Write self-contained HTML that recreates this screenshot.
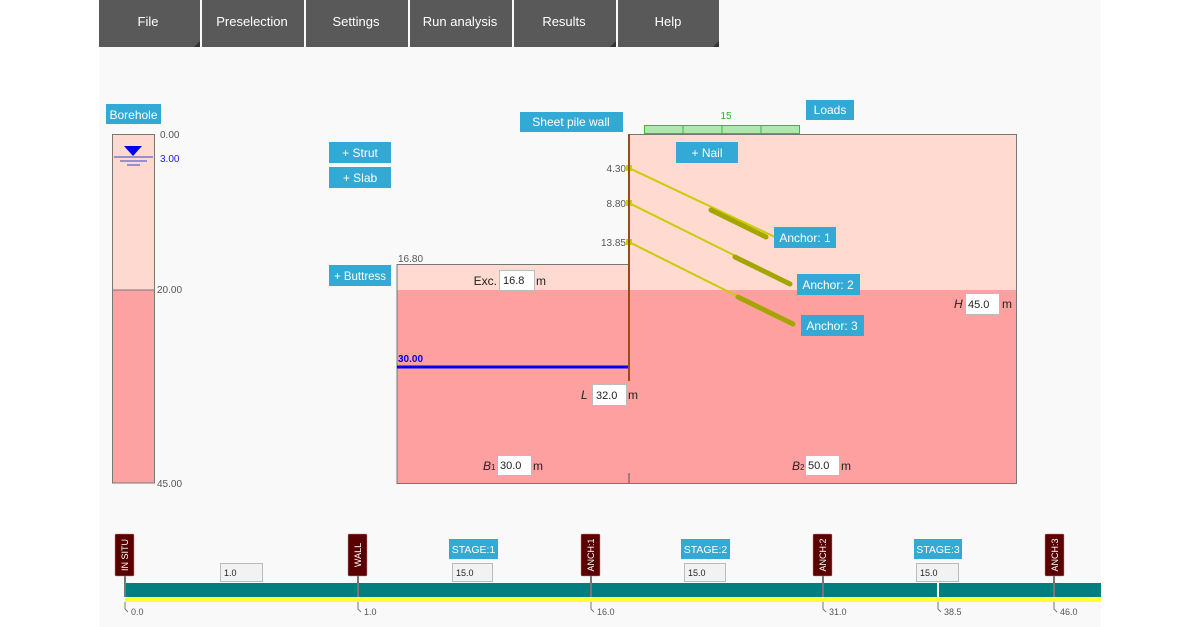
<!DOCTYPE html>
<html><head><meta charset="utf-8"><style>
body{margin:0;background:#fff;}
svg{display:block;font-family:"Liberation Sans","DejaVu Sans",sans-serif;}
</style></head><body>
<svg width="1200" height="627" viewBox="0 0 1200 627" xmlns="http://www.w3.org/2000/svg">
<rect x="99" y="0" width="1002" height="627" fill="#f9f9f9"/>
<!-- menu -->
<g fill="#595959">
<rect x="99" y="0" width="101" height="47"/><rect x="202" y="0" width="102" height="47"/>
<rect x="306" y="0" width="102" height="47"/><rect x="410" y="0" width="102" height="47"/>
<rect x="514" y="0" width="102" height="47"/><rect x="618" y="0" width="101" height="47"/>
</g>
<g fill="#333"><path d="M200 41L200 47L194 47Z"/><path d="M616 41L616 47L610 47Z"/><path d="M719 41L719 47L713 47Z"/></g>
<g fill="#fff" font-size="13" text-anchor="middle">
<text x="148" y="26">File</text><text x="252" y="26">Preselection</text><text x="356" y="26">Settings</text>
<text x="460" y="26">Run analysis</text><text x="564" y="26">Results</text><text x="668" y="26">Help</text>
</g>
<!-- borehole -->
<rect x="106" y="104" width="55" height="20" fill="#33a9d6"/>
<text x="133.5" y="119" font-size="12" fill="#fff" text-anchor="middle">Borehole</text>
<rect x="112.5" y="134.5" width="42" height="156" fill="#fdd9d0" stroke="#777"/>
<rect x="112.5" y="290" width="42" height="193" fill="#fda2a2" stroke="#777"/>
<path d="M124 146L142 146L133 156Z" fill="#0000ee"/>
<line x1="114" y1="157" x2="153" y2="157" stroke="#3344dd"/>
<line x1="120" y1="161" x2="147" y2="161" stroke="#3344dd"/>
<line x1="127" y1="165" x2="140" y2="165" stroke="#3344dd"/>
<g font-size="10" fill="#555">
<text x="160" y="138">0.00</text><text x="160" y="162" fill="#1a1aee">3.00</text>
<text x="157" y="293">20.00</text><text x="157" y="487">45.00</text>
</g>
<!-- main soil -->
<rect x="629" y="134" width="387" height="156" fill="#fedad1"/>
<rect x="629" y="290" width="387" height="193" fill="#fea0a0"/>
<rect x="397" y="264" width="232" height="26" fill="#fedad1"/>
<rect x="397" y="290" width="232" height="193" fill="#fea0a0"/>
<path d="M397 483V264.5H629V134.5H1016.5V483.5H397Z" fill="none" stroke="#777"/>
<line x1="629" y1="473" x2="629" y2="483" stroke="#555"/>
<line x1="397" y1="367" x2="629" y2="367" stroke="#0000ee" stroke-width="3"/>
<text x="398" y="362" font-size="10" fill="#0000ee" font-weight="bold">30.00</text>
<text x="398" y="262" font-size="10" fill="#555">16.80</text>
<!-- anchors -->
<g stroke="#cccc00" stroke-width="2">
<line x1="629" y1="168" x2="775" y2="237"/><line x1="629" y1="203" x2="790" y2="283"/><line x1="629" y1="242" x2="795" y2="325"/>
</g>
<g stroke="#a5a500" stroke-width="5" stroke-linecap="round">
<line x1="711" y1="210" x2="766" y2="237"/><line x1="735" y1="257" x2="790" y2="284"/><line x1="738" y1="297" x2="793" y2="324"/>
</g>
<g fill="#cccc00"><rect x="626" y="165" width="6" height="6"/><rect x="626" y="200" width="6" height="6"/><rect x="626" y="239" width="6" height="6"/></g>
<line x1="629" y1="134" x2="629" y2="381" stroke="#9c4a1a" stroke-width="2"/>
<g font-size="10" fill="#555" text-anchor="end"><text x="626" y="172">4.30</text><text x="626" y="207">8.80</text><text x="626" y="246">13.85</text></g>
<!-- loads -->
<rect x="644.5" y="125.5" width="155" height="8" fill="#b0e8ac" stroke="#3cb83c"/>
<g stroke="#3cb83c"><line x1="683" y1="125" x2="683" y2="134"/><line x1="722" y1="125" x2="722" y2="134"/><line x1="761" y1="125" x2="761" y2="134"/></g>
<text x="726" y="119" font-size="10" fill="#22bb22" text-anchor="middle">15</text>
<!-- buttons -->
<g fill="#33a9d6">
<rect x="806" y="100" width="48" height="20"/><rect x="520" y="112" width="103" height="20"/>
<rect x="329" y="142" width="62" height="21"/><rect x="329" y="167" width="62" height="21"/>
<rect x="329" y="265" width="62" height="21"/><rect x="676" y="142" width="62" height="21"/>
<rect x="774" y="227" width="62" height="21"/><rect x="797" y="274" width="63" height="21"/><rect x="801" y="315" width="63" height="21"/>
</g>
<g fill="#fff" font-size="12" text-anchor="middle">
<text x="830" y="114">Loads</text><text x="571" y="126">Sheet pile wall</text>
<text x="360" y="157">+ Strut</text><text x="360" y="182">+ Slab</text><text x="360" y="280" font-size="11.5">+ Buttress</text>
<text x="707" y="157">+ Nail</text><text x="805" y="242">Anchor: 1</text><text x="828" y="289">Anchor: 2</text><text x="832" y="330">Anchor: 3</text>
</g>
<!-- inputs -->
<g fill="#fff" stroke="#bbb">
<rect x="499.5" y="270.5" width="35" height="20"/><rect x="965.5" y="293.5" width="34" height="21"/>
<rect x="592.5" y="384.5" width="34" height="21"/><rect x="497.5" y="455.5" width="34" height="20"/><rect x="805.5" y="455.5" width="34" height="20"/>
</g>
<g font-size="11" fill="#222">
<text x="503" y="284">16.8</text><text x="968" y="308">45.0</text><text x="596" y="399">32.0</text>
<text x="500" y="469">30.0</text><text x="808" y="469">50.0</text>
</g>
<g font-size="12" fill="#222">
<text x="497" y="285" text-anchor="end">Exc.</text><text x="536" y="285">m</text>
<text x="954" y="308" font-style="italic">H</text><text x="1002" y="308">m</text>
<text x="581" y="399" font-style="italic">L</text><text x="628" y="399">m</text>
<text x="483" y="470" font-style="italic">B<tspan font-size="8" font-style="normal">1</tspan></text><text x="533" y="470">m</text>
<text x="792" y="470" font-style="italic">B<tspan font-size="8" font-style="normal">2</tspan></text><text x="841" y="470">m</text>
</g>
<!-- timeline -->
<rect x="125" y="583" width="976" height="14" fill="#007f7f"/>
<rect x="125" y="597" width="976" height="1" fill="#cfe"/>
<rect x="125" y="598" width="976" height="4" fill="#ffff33"/>
<g stroke="#777" stroke-width="2">
<line x1="125" y1="576" x2="125" y2="597"/><line x1="358" y1="576" x2="358" y2="597"/><line x1="591" y1="576" x2="591" y2="597"/>
<line x1="823" y1="576" x2="823" y2="597"/><line x1="1054" y1="576" x2="1054" y2="597"/>
</g>
<line x1="938" y1="583" x2="938" y2="597" stroke="#fff" stroke-width="2"/>
<g fill="none" stroke="#777"><path d="M125 602v7l3 3"/><path d="M358 602v7l3 3"/><path d="M591 602v7l3 3"/><path d="M823 602v7l3 3"/><path d="M938 602v7l3 3"/><path d="M1054 602v7l3 3"/></g>
<g font-size="9" fill="#555"><text x="131" y="615">0.0</text><text x="364" y="615">1.0</text><text x="597" y="615">16.0</text><text x="829" y="615">31.0</text><text x="944" y="615">38.5</text><text x="1060" y="615">46.0</text></g>
<g fill="#5a0000" stroke="#c88" stroke-width="0.5">
<rect x="115" y="534" width="19" height="42" rx="1"/><rect x="348" y="534" width="19" height="42" rx="1"/>
<rect x="581" y="534" width="19" height="42" rx="1"/><rect x="813" y="534" width="19" height="42" rx="1"/><rect x="1045" y="534" width="19" height="42" rx="1"/>
</g>
<g fill="#fff" font-size="9" text-anchor="middle">
<text transform="translate(128,555) rotate(-90)">IN SITU</text><text transform="translate(361,555) rotate(-90)">WALL</text>
<text transform="translate(594,555) rotate(-90)">ANCH:1</text><text transform="translate(826,555) rotate(-90)">ANCH:2</text>
<text transform="translate(1058,555) rotate(-90)">ANCH:3</text>
</g>
<g fill="#33a9d6"><rect x="449" y="539" width="49" height="20"/><rect x="681" y="539" width="49" height="20"/><rect x="914" y="539" width="48" height="20"/></g>
<g fill="#fff" font-size="10.5" text-anchor="middle"><text x="473.5" y="553">STAGE:1</text><text x="705.5" y="553">STAGE:2</text><text x="938" y="553">STAGE:3</text></g>
<g fill="#f2f2f2" stroke="#bbb"><rect x="220.5" y="563.5" width="42" height="18"/><rect x="452.5" y="563.5" width="40" height="18"/><rect x="684.5" y="563.5" width="41" height="18"/><rect x="916.5" y="563.5" width="42" height="18"/></g>
<g font-size="9" fill="#222"><text x="224" y="576">1.0</text><text x="456" y="576">15.0</text><text x="688" y="576">15.0</text><text x="920" y="576">15.0</text></g>
</svg>
</body></html>
